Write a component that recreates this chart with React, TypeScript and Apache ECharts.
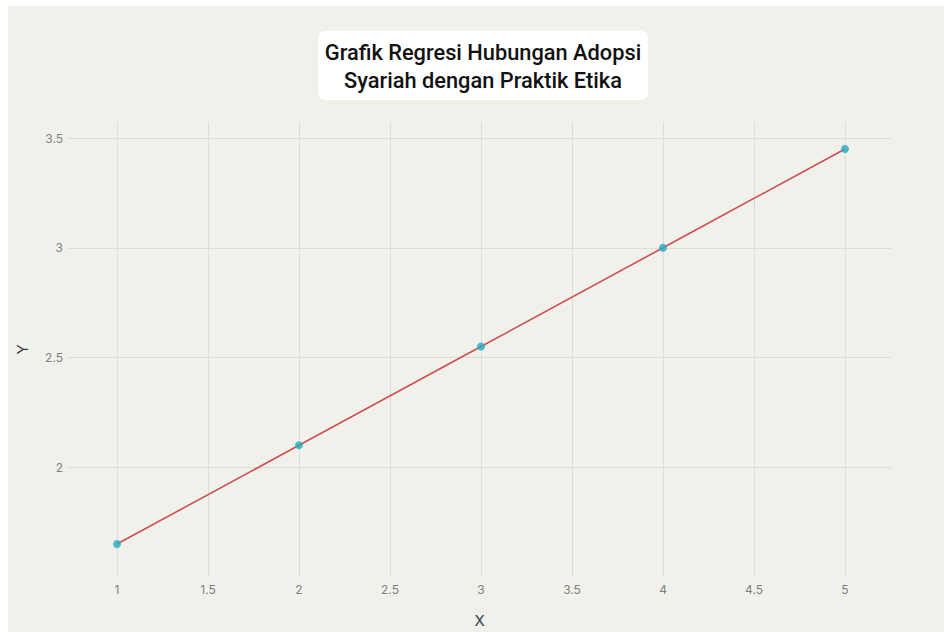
import React, { useEffect, useRef } from "react";
import * as echarts from "echarts";

const xValues = [1, 2, 3, 4, 5];
const yObserved = [1.65, 2.1, 2.55, 3.0, 3.45];
const yFitted = [1.65, 2.1, 2.55, 3.0, 3.45];
const xTicks = [1, 1.5, 2, 2.5, 3, 3.5, 4, 4.5, 5];
const yTicks = [2, 2.5, 3, 3.5];
const titleLines = ["Grafik Regresi Hubungan Adopsi", "Syariah dengan Praktik Etika"];

export default function App() {
  const ref = useRef<HTMLDivElement>(null);
  useEffect(() => {
    if (!ref.current) return;
    const chart = echarts.init(ref.current, null, { renderer: "svg" });
    const labelStyle = { color: "#7f7f7f", fontSize: 12, fontFamily: "Inter" };
    chart.setOption({
      animation: false,
      backgroundColor: "#f1f1ec",
      grid: {
        left: 60,
        right: 53,
        top: 116,
        bottom: 55,
        containLabel: false,
        outerBoundsMode: "none",
      },
      xAxis: {
        type: "value",
        min: 0.7308,
        max: 5.2527,
        name: "X",
        nameLocation: "middle",
        nameGap: 36,
        nameTextStyle: { color: "#34404c", fontSize: 15, fontFamily: "Inter" },
        axisLine: { show: false },
        axisTick: { show: false, customValues: xTicks },
        axisLabel: { ...labelStyle, customValues: xTicks, margin: 6 },
        splitLine: { show: true, lineStyle: { color: "#dcdcd8", width: 1 } },
      },
      yAxis: {
        type: "value",
        min: 1.5,
        max: 3.573,
        name: "Y",
        nameLocation: "middle",
        nameGap: 38,
        nameTextStyle: { color: "#34404c", fontSize: 15, fontFamily: "Inter" },
        axisLine: { show: false },
        axisTick: { show: false, customValues: yTicks },
        axisLabel: { ...labelStyle, customValues: yTicks, margin: 5 },
        splitLine: { show: true, lineStyle: { color: "#dcdcd8", width: 1 } },
      },
      graphic: [
        {
          type: "group",
          left: 310,
          top: 25,
          children: [
            {
              type: "rect",
              shape: { x: 0, y: 0, width: 330, height: 69, r: 7 },
              style: { fill: "#ffffff" },
            },
            {
              type: "text",
              x: 165,
              y: 35,
              style: {
                text: titleLines.join("\n"),
                fill: "#111111",
                fontSize: 21.8,
                fontFamily: "Roboto",
                fontWeight: 500,
                lineHeight: 28,
                align: "center",
                verticalAlign: "middle",
              },
            },
          ],
        },
      ],
      series: [
        {
          type: "line",
          data: xValues.map((x, i) => [x, yFitted[i]]),
          showSymbol: false,
          lineStyle: { color: "#cf4f4f", width: 1.6 },
          z: 2,
        },
        {
          type: "scatter",
          data: xValues.map((x, i) => [x, yObserved[i]]),
          symbolSize: 8,
          itemStyle: { color: "#26a9c0" },
          z: 3,
        },
      ],
    });
    return () => chart.dispose();
  }, []);
  return (
    <div
      ref={ref}
      style={{ position: "absolute", left: 8, top: 6, width: 936, height: 626 }}
    />
  );
}
